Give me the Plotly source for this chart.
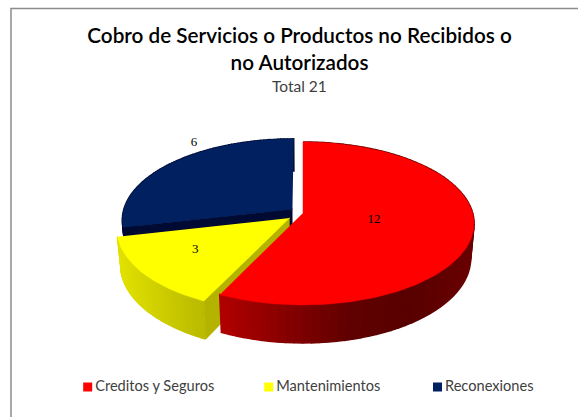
import numpy as np
import plotly.graph_objects as go

categories = ["Creditos y Seguros", "Mantenimientos", "Reconexiones"]
values = [12, 3, 6]
explode = [0.0, 0.1, 0.08]
top_colors = ["#FF0000", "#FFFF00", "#002060"]
wall_colors = [
    [(178, 0, 0), (136, 0, 0), (98, 0, 0), (88, 0, 0), (106, 0, 0)],
    [(226, 226, 0), (186, 186, 0)],
    [(0, 10, 50), (0, 10, 50)],
]
cut_colors = ["#8A0000", "#B4B400", "#000A33"]
title_text = "Cobro de Servicios o Productos no Recibidos o<br>no Autorizados"
subtitle_text = "Total 21"

W, H = 578, 417
CX, CY, RX, RY, K = 303.0, 213.0, 169.6, 80.1, 0.1288
DEPTH, SHRINK = 34.7, 0.98
WALL_X_RANGE = [(220.0, 474.0), (117.0, 204.0), (122.0, 293.0)]


def project(u, v, bottom=False):
    w = 1 + K * v
    sx, sy = RX * u / w, RY * v / w
    if bottom:
        return CX + SHRINK * sx, CY - SHRINK * sy + DEPTH / w
    return CX + sx, CY - sy


def lerp_color(stops, t):
    p = t * (len(stops) - 1)
    i = min(int(p), len(stops) - 2)
    f = p - i
    c = [stops[i][k] + (stops[i + 1][k] - stops[i][k]) * f for k in range(3)]
    return "rgb(%d,%d,%d)" % tuple(c)


def poly(x, y, color, lw=1.0):
    return go.Scatter(x=list(x), y=list(y), mode="lines", fill="toself", fillcolor=color,
                      line=dict(color=color, width=lw), hoverinfo="skip", showlegend=False)


total = sum(values)
edges = np.concatenate([[0], np.cumsum(values)]) / total * 2 * np.pi
fig = go.Figure()
faces = []
walls = {0: [], 1: [], 2: []}

for i, val in enumerate(values):
    a0, a1 = edges[i], edges[i + 1]
    mid = (a0 + a1) / 2
    ou, ov = explode[i] * np.sin(mid), explode[i] * np.cos(mid)
    th = np.linspace(a0, a1, 160)
    u, v = ou + np.sin(th), ov + np.cos(th)

    tipb = project(ou, ov, True)
    tipt = project(ou, ov)
    # a cut side is only drawn when it faces the viewer
    visible = [(a0, np.cos(a0 - np.pi / 2) < -0.01), (a1, np.cos(a1 + np.pi / 2) < -0.01)]
    for a, is_vis in visible:
        if is_vis:
            ue, ve = ou + np.sin(a), ov + np.cos(a)
            pt, pb = project(ue, ve), project(ue, ve, True)
            walls[i].append(poly([tipt[0], pt[0], pb[0], tipb[0]], [tipt[1], pt[1], pb[1], tipb[1]], cut_colors[i]))
    n = 80
    th_w = np.linspace(a0, a1, n + 1)
    uw, vw = ou + np.sin(th_w), ov + np.cos(th_w)
    for j in range(n):
        p0, p1 = project(uw[j], vw[j]), project(uw[j + 1], vw[j + 1])
        q0, q1 = project(uw[j], vw[j], True), project(uw[j + 1], vw[j + 1], True)
        xm = (p0[0] + p1[0]) / 2
        rng = WALL_X_RANGE[i]
        t = float(np.clip((xm - rng[0]) / (rng[1] - rng[0]), 0, 1))
        walls[i].append(poly([p0[0], p1[0], q1[0], q0[0]], [p0[1], p1[1], q1[1], q0[1]],
                             lerp_color(wall_colors[i], t), lw=1.6))
    px, py = zip(*[project(a, b) for a, b in zip(u, v)])
    faces.append(poly([tipt[0], *px], [tipt[1], *py], top_colors[i], lw=0.5))

# painter's order: back slice, then yellow, then red
for i in (2, 1, 0):
    for tr in walls[i]:
        fig.add_trace(tr)
    fig.add_trace(faces[i])

# data labels
label_uv = [(0.414, -0.087), (-0.6, -0.43), (-0.725, 0.99)]
for (lu, lv), val in zip(label_uv, values):
    lx, ly = project(lu, lv)
    fig.add_trace(go.Scatter(x=[lx], y=[ly], mode="text", text=[str(val)], showlegend=False, hoverinfo="skip",
                             textfont=dict(family="Liberation Serif", size=13, color="#000000")))

# legend row: swatch and text sit tight together, as in the reference
legend_x = [87.7, 268.7, 437.5]
legend_y = 387
text_gap = 7.5
for i, name in enumerate(categories):
    fig.add_trace(go.Scatter(x=[legend_x[i]], y=[legend_y], mode="markers", name=name, showlegend=False,
                             hoverinfo="skip", marker=dict(symbol="square", size=9, color=top_colors[i])))
    fig.add_trace(go.Scatter(x=[legend_x[i] + text_gap], y=[legend_y + 0.5], mode="text", showlegend=False,
                             hoverinfo="skip", text=[name], textposition="middle right",
                             textfont=dict(family="Lato", size=14.6, color="#404040")))

fig.update_layout(
    width=W, height=H, margin=dict(l=0, r=0, t=0, b=0), autosize=False,
    paper_bgcolor="white", plot_bgcolor="white", showlegend=False,
    title=dict(text=title_text, x=299.5 / W, xanchor="center", y=1 - 43 / H, yanchor="top",
               font=dict(family="Lato", size=20.7, color="#000000", weight=600)),
    xaxis=dict(range=[0, W], visible=False, fixedrange=True),
    yaxis=dict(range=[H, 0], visible=False, fixedrange=True),
    annotations=[dict(text=subtitle_text, x=299.5 / W, y=1 - 86 / H, xref="paper", yref="paper", showarrow=False,
                      yanchor="middle", font=dict(family="Lato", size=15.5, color="#404040"))],
    shapes=[dict(type="rect", xref="paper", yref="paper", x0=11 / W, x1=1.5, y0=-0.5, y1=1 - 8.5 / H,
                 line=dict(color="#8C8C8C", width=1.5))],
)
fig.write_html("out.html", config=dict(displayModeBar=False), post_script="document.body.style.margin='0';")
